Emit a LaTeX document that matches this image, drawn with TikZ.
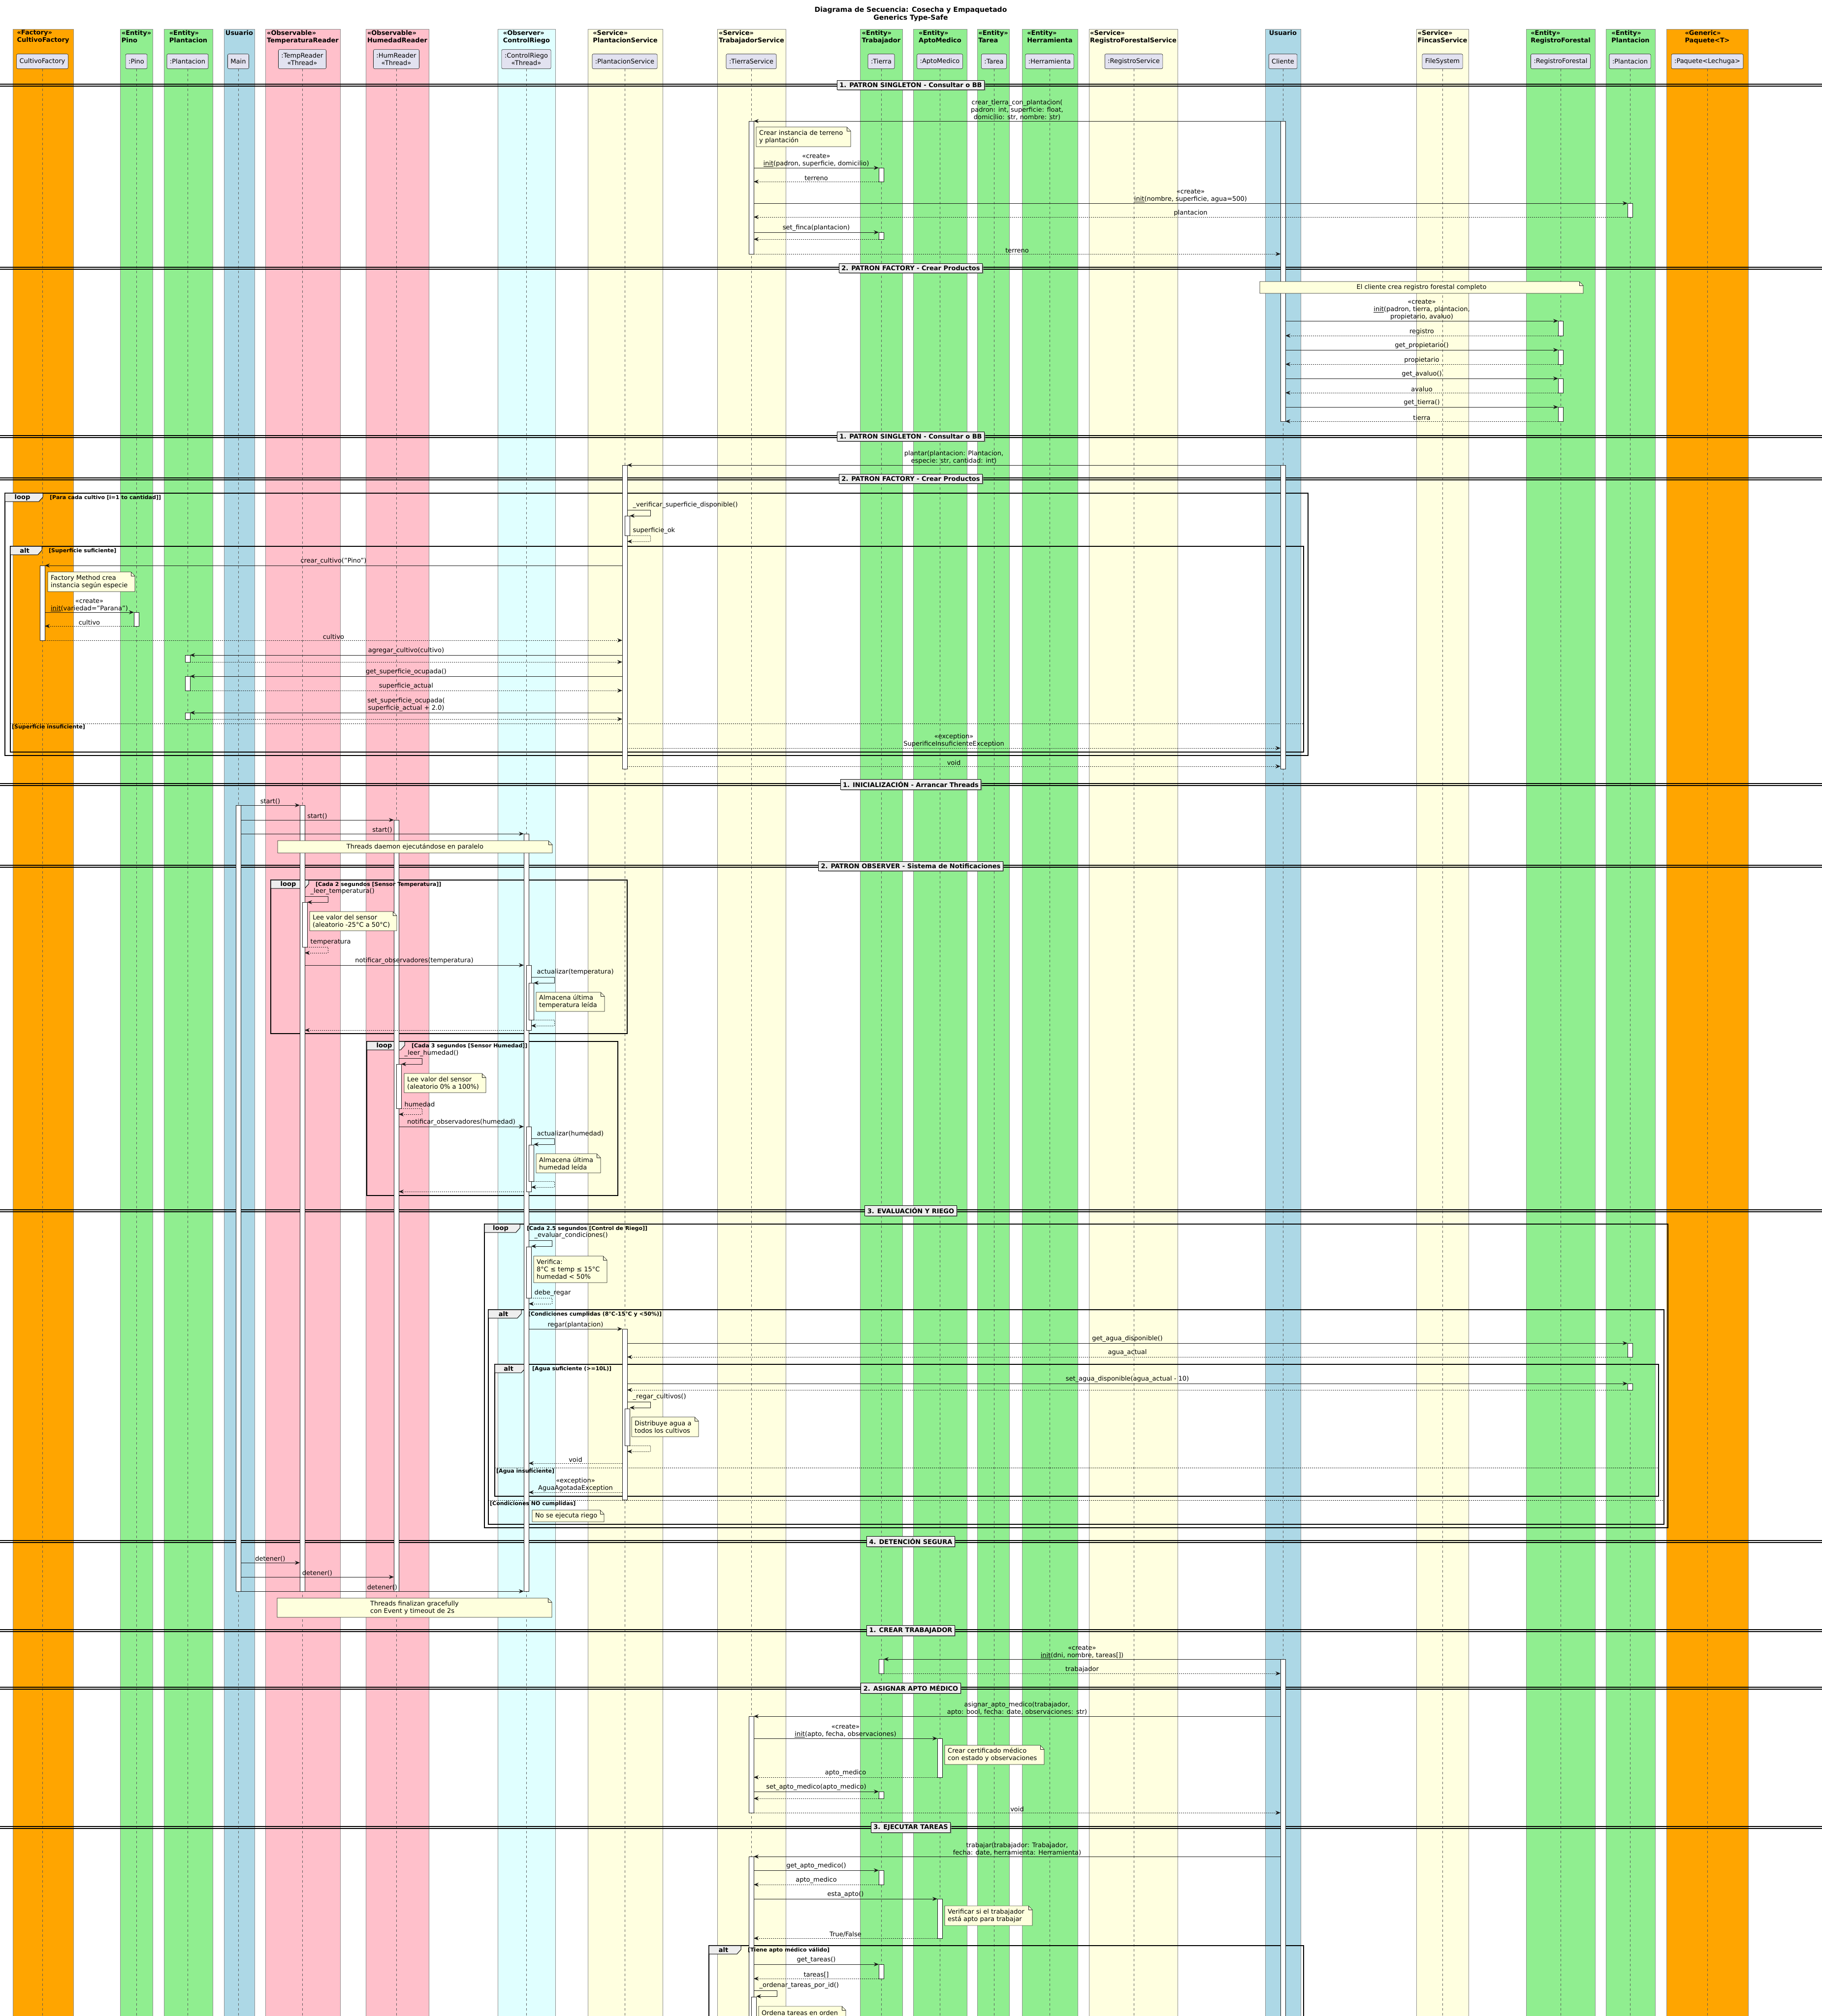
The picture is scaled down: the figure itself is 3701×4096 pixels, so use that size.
\documentclass[tikz,border=0pt]{standalone}
\usepackage{fontspec}
\setmainfont{DejaVu Sans}
\usetikzlibrary{calc,arrows.meta,shadows}

\definecolor{facorange}{HTML}{FFA500}
\definecolor{entgreen}{HTML}{90EE90}
\definecolor{usrblue}{HTML}{ADD8E6}
\definecolor{obspink}{HTML}{FFC0CB}
\definecolor{obscyan}{HTML}{E0FFFF}
\definecolor{svcyellow}{HTML}{FFFFE0}
\definecolor{headfill}{HTML}{E2E2F0}
\definecolor{notefill}{HTML}{FEFFDD}
\definecolor{tabfill}{HTML}{EEEEEE}
\definecolor{ink}{HTML}{181818}

\pgfdeclarelayer{bg}
\pgfdeclarelayer{mid}
\pgfdeclarelayer{acts}
\pgfsetlayers{bg,mid,acts,main}

\tikzset{
  band/.style={draw=black!45, line width=0.6pt},
  boxtitle/.style={anchor=north, align=left, inner sep=0pt, font=\bfseries},
  head/.style={draw=ink, fill=headfill, rounded corners=2.5pt, anchor=south, align=center,
    minimum height=30pt, inner xsep=6pt, inner ysep=7pt, line width=0.6pt},
  lifeline/.style={draw=black!65, dash pattern=on 5pt off 5pt, line width=0.7pt},
  actbox/.style={draw=ink, fill=white, line width=0.8pt},
  call/.style={draw=ink, line width=1pt, -{Stealth[length=10pt,width=8pt]}, shorten <=5pt, shorten >=5pt},
  ret/.style={call, dash pattern=on 2pt off 2pt},
  msglbl/.style={above, inner sep=1.5pt, align=center},
  selflbl/.style={anchor=south west, inner sep=1.5pt},
  notebox/.style={draw=ink, fill=notefill, line width=0.6pt},
  notetxt/.style={inner sep=0pt, align=left},
  divlbl/.style={draw=black, fill=tabfill, line width=1pt, inner xsep=5pt, inner ysep=4pt, font=\bfseries,
    drop shadow={shadow xshift=2pt, shadow yshift=-2pt, opacity=0.6}},
  frame/.style={draw=black, line width=1.4pt},
  tabshape/.style={draw=black, fill=tabfill, line width=1pt},
  condlbl/.style={inner sep=0pt, font=\bfseries\fontsize{11}{13}\selectfont},
}

\newcount\lblno

% name, x, band x1, band x2, colour, title, head
\newcommand\participant[7]{%
  \begin{pgfonlayer}{bg}
    \filldraw[band, fill=#5] (#3,59) rectangle (#4,4110);
  \end{pgfonlayer}
  \node[boxtitle] (#1t) at ({(#3+#4)/2},61) {#6};
  \node[head] (#1) at (#2,140) {#7};
  \begin{pgfonlayer}{mid}
    \draw[lifeline] (#1.south) -- ++(0,3970);
  \end{pgfonlayer}
}

% [offset] who, y1, y2
\newcommand\act[4][0]{%
  \path (0,#3) coordinate (ya) (0,#4) coordinate (yb);
  \path (#2 |- ya) coordinate (pa) (#2 |- yb) coordinate (pb);
  \begin{pgfonlayer}{acts}
    \draw[actbox] ($(pa)+(#1-5,0)$) rectangle ($(pb)+(#1+5,0)$);
  \end{pgfonlayer}
}

\newcommand\callmsg[4]{%
  \global\advance\lblno by 1
  \path (0,#3) coordinate (yy);
  \draw[call] (#1 |- yy) -- node[msglbl] (lbl\the\lblno) {#4} (#2 |- yy);
}
\newcommand\retmsg[4]{%
  \global\advance\lblno by 1
  \path (0,#3) coordinate (yy);
  \draw[ret] (#1 |- yy) -- node[msglbl] (lbl\the\lblno) {#4} (#2 |- yy);
}

% [offset] who, y, label
\newcommand\selfcall[4][0]{%
  \global\advance\lblno by 1
  \path (0,#3) coordinate (yy);
  \path (#2 |- yy) coordinate (sa);
  \draw[call, shorten <=0pt, shorten >=0pt] ($(sa)+(#1+5,0)$) -- ($(sa)+(#1+52,0)$)
    -- ($(sa)+(#1+52,12)$) -- ($(sa)+(#1+10,12)$);
  \node[selflbl] (lbl\the\lblno) at ($(sa)+(#1+15,-2)$) {#4};
}
\newcommand\selfret[4][0]{%
  \global\advance\lblno by 1
  \path (0,#3) coordinate (yy);
  \path (#2 |- yy) coordinate (sa);
  \draw[ret, shorten <=0pt, shorten >=0pt] ($(sa)+(#1+10,0)$) -- ($(sa)+(#1+52,0)$)
    -- ($(sa)+(#1+52,12)$) -- ($(sa)+(#1+5,12)$);
  \node[selflbl] (lbl\the\lblno) at ($(sa)+(#1+15,-2)$) {#4};
}

% name, y, label
\newcommand\divider[3]{%
  \begin{pgfonlayer}{mid}
    \draw[line width=1.1pt] (0,#2-2) -- (3701,#2-2) (0,#2+2) -- (3701,#2+2);
  \end{pgfonlayer}
  \node[divlbl] (#1) at (1850,#2) {#3};
}

% x1, y1, x2, y2, keyword, condition, tab width
\newcommand\grp[7]{%
  \global\advance\lblno by 1
  \begin{pgfonlayer}{mid}
    \draw[frame] (#1,#2) rectangle (#3,#4);
    \draw[tabshape] (#1,#2) -- (#1+#7,#2) -- (#1+#7,#2+8) -- (#1+#7-8,#2+17) -- (#1,#2+17) -- cycle;
  \end{pgfonlayer}
  \node[font=\bfseries, inner sep=0pt] (kw\the\lblno) at ({#1+#7/2-3},#2+9) {#5};
  \node[condlbl, anchor=west] (cond\the\lblno) at (#1+#7+14,#2+9) {#6};
}
% x1, x2, y, condition
\newcommand\grpelse[4]{%
  \global\advance\lblno by 1
  \begin{pgfonlayer}{mid}
    \draw[line width=0.8pt, dash pattern=on 2pt off 2pt] (#1,#3) -- (#2,#3);
  \end{pgfonlayer}
  \node[condlbl, anchor=north west] (cond\the\lblno) at (#1+3,#3+2) {#4};
}

% x1, y1, x2, y2, text
\newcommand\memo[5]{%
  \global\advance\lblno by 1
  \draw[notebox] (#1,#2) -- (#3-8,#2) -- (#3,#2+8) -- (#3,#4) -- (#1,#4) -- cycle;
  \draw[notebox, fill=none] (#3-8,#2) -- (#3-8,#2+8) -- (#3,#2+8);
  \node[notetxt, anchor=west] (note\the\lblno) at ({#1+6},{(#2+#4)/2}) {#5};
}
\newcommand\cmemo[5]{%
  \global\advance\lblno by 1
  \draw[notebox] (#1,#2) -- (#3-8,#2) -- (#3,#2+8) -- (#3,#4) -- (#1,#4) -- cycle;
  \draw[notebox, fill=none] (#3-8,#2) -- (#3-8,#2+8) -- (#3,#2+8);
  \node[notetxt] (note\the\lblno) at ({(#1+#3)/2},{(#2+#4)/2}) {#5};
}

\begin{document}
\begin{tikzpicture}[x=1pt, y=-1pt, line join=round]
\fontsize{13}{15}\selectfont
\useasboundingbox (0,0) rectangle (3701,4096);
\begin{pgfonlayer}{bg}
  \fill[white] (0,0) rectangle (3701,4096);
\end{pgfonlayer}

\node[font=\bfseries\fontsize{14}{16}\selectfont, align=center] (title) at (1850,29)
  {Diagrama de Secuencia: Cosecha y Empaquetado\\Generics Type-Safe};

% participantes
\participant{fac}{86}{26}{149}{facorange}{«Factory»\\CultivoFactory}{CultivoFactory}
\participant{pino}{277}{244}{310}{entgreen}{«Entity»\\Pino}{:Pino}
\participant{plan}{381}{333}{432}{entgreen}{«Entity»\\Plantacion}{:Plantacion}
\participant{main}{484}{455}{517}{usrblue}{Usuario}{Main}
\participant{temp}{614}{539}{691}{obspink}{«Observable»\\TemperaturaReader}{:TempReader\\«Thread»}
\participant{hum}{805}{743}{871}{obspink}{«Observable»\\HumedadReader}{:HumReader\\«Thread»}
\participant{riego}{1069}{1011}{1128}{obscyan}{«Observer»\\ControlRiego}{:ControlRiego\\«Thread»}
\participant{psvc}{1269}{1194}{1346}{svcyellow}{«Service»\\PlantacionService}{:PlantacionService}
\participant{tsvc}{1526}{1457}{1596}{svcyellow}{«Service»\\TrabajadorService}{:TierraService}
\participant{tierra}{1790}{1747}{1833}{entgreen}{«Entity»\\Trabajador}{:Tierra}
\participant{apto}{1909}{1855}{1964}{entgreen}{«Entity»\\AptoMedico}{:AptoMedico}
\participant{tarea}{2019}{1985}{2050}{entgreen}{«Entity»\\Tarea}{:Tarea}
\participant{herr}{2132}{2076}{2189}{entgreen}{«Entity»\\Herramienta}{:Herramienta}
\participant{rsvc}{2303}{2212}{2392}{svcyellow}{«Service»\\RegistroForestalService}{:RegistroService}
\participant{cli}{2606}{2570}{2642}{usrblue}{Usuario}{Cliente}
\participant{fincas}{2930}{2877}{2983}{svcyellow}{«Service»\\FincasService}{FileSystem}
\participant{reg}{3170}{3100}{3240}{entgreen}{«Entity»\\RegistroForestal}{:RegistroForestal}
\participant{plantwo}{3311}{3262}{3362}{entgreen}{«Entity»\\Plantacion}{:Plantacion}
\participant{paq}{3468}{3385}{3551}{facorange}{«Generic»\\Paquete<T>}{:Paquete<Lechuga>}

% tierra con plantacion
\divider{divA}{173}{1. PATRON SINGLETON - Consultar o BB}
\act{cli}{246}{856}
\act{tsvc}{246}{516}
\callmsg{cli}{tsvc}{246}{crear\_tierra\_con\_plantacion(\\padron: int, superficie: float,\\domicilio: str, nombre: str)}
\memo{1536}{258}{1728}{298}{Crear instancia de terreno\\y plantación}
\act{tierra}{341}{369}
\callmsg{tsvc}{tierra}{341}{«create»\\\underline{init}(padron, superficie, domicilio)}
\retmsg{tierra}{tsvc}{369}{terreno}
\act{plantwo}{413}{441}
\callmsg{tsvc}{plantwo}{413}{«create»\\\underline{init}(nombre, superficie, agua=500)}
\retmsg{plantwo}{tsvc}{441}{plantacion}
\act{tierra}{472}{486}
\callmsg{tsvc}{tierra}{472}{set\_finca(plantacion)}
\retmsg{tierra}{tsvc}{486}{}
\retmsg{tsvc}{cli}{516}{terreno}

% registro forestal
\divider{divB}{545}{2. PATRON FACTORY - Crear Productos}
\cmemo{2559}{572}{3216}{596}{El cliente crea registro forestal completo}
\act{reg}{652}{682}
\callmsg{cli}{reg}{652}{«create»\\\underline{init}(padron, tierra, plantacion,\\propietario, avaluo)}
\retmsg{reg}{cli}{682}{registro}
\act{reg}{711}{740}
\callmsg{cli}{reg}{711}{get\_propietario()}
\retmsg{reg}{cli}{740}{propietario}
\act{reg}{769}{798}
\callmsg{cli}{reg}{769}{get\_avaluo()}
\retmsg{reg}{cli}{798}{avaluo}
\act{reg}{827}{856}
\callmsg{cli}{reg}{827}{get\_tierra()}
\retmsg{reg}{cli}{856}{tierra}

% plantar
\divider{divC}{887}{1. PATRON SINGLETON - Consultar o BB}
\act{cli}{945}{1562}
\act{psvc}{945}{1562}
\callmsg{cli}{psvc}{945}{plantar(plantacion: Plantacion,\\especie: str, cantidad: int)}
\divider{divD}{973}{2. PATRON FACTORY - Crear Productos}
\grp{10}{1002}{2657}{1535}{loop}{[Para cada cultivo [i=1 to cantidad]]}{77}
\selfcall{psvc}{1036}{\_verificar\_superficie\_disponible()}
\act[5]{psvc}{1048}{1088}
\selfret{psvc}{1088}{superficie\_ok}
\grp{21}{1110}{2648}{1528}{alt}{[Superficie suficiente]}{64}
\act{fac}{1149}{1301}
\callmsg{psvc}{fac}{1149}{crear\_cultivo("Pino")}
\memo{97}{1162}{274}{1202}{Factory Method crea\\instancia según especie}
\act{pino}{1244}{1272}
\callmsg{fac}{pino}{1244}{«create»\\\underline{init}(variedad="Parana")}
\retmsg{pino}{fac}{1272}{cultivo}
\retmsg{fac}{psvc}{1301}{cultivo}
\act{plan}{1331}{1345}
\callmsg{psvc}{plan}{1331}{agregar\_cultivo(cultivo)}
\retmsg{plan}{psvc}{1345}{}
\act{plan}{1374}{1403}
\callmsg{psvc}{plan}{1374}{get\_superficie\_ocupada()}
\retmsg{plan}{psvc}{1403}{superficie\_actual}
\act{plan}{1448}{1461}
\callmsg{psvc}{plan}{1448}{set\_superficie\_ocupada(\\superficie\_actual + 2.0)}
\retmsg{plan}{psvc}{1461}{}
\grpelse{21}{2648}{1470}{[Superficie insuficiente]}
\retmsg{psvc}{cli}{1520}{«exception»\\SuperificeInsuficienteException}
\retmsg{psvc}{cli}{1557}{void}

% hilos
\divider{divE}{1594}{1. INICIALIZACIÓN - Arrancar Threads}
\act{main}{1636}{3233}
\act{temp}{1636}{3233}
\callmsg{main}{temp}{1636}{start()}
\act{hum}{1666}{3233}
\callmsg{main}{hum}{1666}{start()}
\act{riego}{1694}{3233}
\callmsg{main}{riego}{1694}{start()}
\cmemo{564}{1708}{1122}{1733}{Threads daemon ejecutándose en paralelo}

\divider{divF}{1760}{2. PATRON OBSERVER - Sistema de Notificaciones}
\grp{550}{1788}{1274}{2100}{loop}{[Cada 2 segundos [Sensor Temperatura]]}{77}
\selfcall{temp}{1821}{\_leer\_temperatura()}
\act[5]{temp}{1833}{1924}
\memo{629}{1852}{806}{1891}{Lee valor del sensor\\(aleatorio -25°C a 50°C)}
\selfret{temp}{1924}{temperatura}
\act[5]{riego}{1961}{2093}
\callmsg{temp}{riego}{1961}{notificar\_observadores(temperatura)}
\selfcall[5]{riego}{1985}{actualizar(temperatura)}
\act[10]{riego}{1997}{2072}
\memo{1089}{2016}{1228}{2055}{Almacena última\\temperatura leída}
\selfret[5]{riego}{2072}{}
\retmsg{riego}{temp}{2093}{}

\grp{745}{2116}{1255}{2429}{loop}{[Cada 3 segundos [Sensor Humedad]]}{77}
\selfcall{hum}{2150}{\_leer\_humedad()}
\act[5]{hum}{2162}{2252}
\memo{821}{2181}{987}{2220}{Lee valor del sensor\\(aleatorio 0\% a 100\%)}
\selfret{hum}{2252}{humedad}
\act[5]{riego}{2289}{2421}
\callmsg{hum}{riego}{2289}{notificar\_observadores(humedad)}
\selfcall[5]{riego}{2313}{actualizar(humedad)}
\act[10]{riego}{2326}{2400}
\memo{1089}{2344}{1220}{2383}{Almacena última\\humedad leída}
\selfret[5]{riego}{2400}{}
\retmsg{riego}{hum}{2421}{}

% riego
\divider{divG}{2460}{3. EVALUACIÓN Y RIEGO}
\grp{984}{2487}{3388}{3104}{loop}{[Cada 2.5 segundos [Control de Riego]]}{72}
\selfcall{riego}{2520}{\_evaluar\_condiciones()}
\act[5]{riego}{2533}{2637}
\memo{1084}{2552}{1233}{2606}{Verifica:\\8°C ≤ temp ≤ 15°C\\humedad < 50\%}
\selfret{riego}{2637}{debe\_regar}
\grp{992}{2661}{3380}{3097}{alt}{[Condiciones cumplidas (8°C-15°C y <50\%)]}{67}
\act{psvc}{2700}{3047}
\callmsg{riego}{psvc}{2700}{regar(plantacion)}
\act{plantwo}{2729}{2757}
\callmsg{psvc}{plantwo}{2729}{get\_agua\_disponible()}
\retmsg{plantwo}{psvc}{2757}{agua\_actual}
\grp{1005}{2772}{3369}{3040}{alt}{[Agua suficiente (>=10L)]}{62}
\act{plantwo}{2811}{2824}
\callmsg{psvc}{plantwo}{2811}{set\_agua\_disponible(agua\_actual - 10)}
\retmsg{plantwo}{psvc}{2824}{}
\selfcall{psvc}{2848}{\_regar\_cultivos()}
\act[5]{psvc}{2862}{2937}
\memo{1283}{2879}{1419}{2919}{Distribuye agua a\\todos los cultivos}
\selfret{psvc}{2937}{}
\retmsg{psvc}{riego}{2973}{void}
\grpelse{1005}{3369}{2982}{[Agua insuficiente]}
\retmsg{psvc}{riego}{3032}{«exception»\\AguaAgotadaException}
\grpelse{992}{3380}{3048}{[Condiciones NO cumplidas]}
\memo{1081}{3068}{1227}{3092}{No se ejecuta riego}

% detencion
\divider{divH}{3132}{4. DETENCIÓN SEGURA}
\callmsg{main}{temp}{3175}{detener()}
\callmsg{main}{hum}{3204}{detener()}
\callmsg{main}{riego}{3233}{detener()}
\cmemo{563}{3247}{1121}{3286}{Threads finalizan gracefully\\con Event y timeout de 2s}

% trabajador
\divider{divI}{3313}{1. CREAR TRABAJADOR}
\act{cli}{3371}{4200}
\act{tierra}{3371}{3400}
\callmsg{cli}{tierra}{3371}{«create»\\\underline{init}(dni, nombre, tareas[])}
\retmsg{tierra}{cli}{3400}{trabajador}

\divider{divJ}{3430}{2. ASIGNAR APTO MÉDICO}
\act{tsvc}{3487}{3683}
\callmsg{cli}{tsvc}{3487}{asignar\_apto\_medico(trabajador,\\apto: bool, fecha: date, observaciones: str)}
\act{apto}{3532}{3611}
\callmsg{tsvc}{apto}{3532}{«create»\\\underline{init}(apto, fecha, observaciones)}
\memo{1919}{3546}{2121}{3585}{Crear certificado médico\\con estado y observaciones}
\retmsg{apto}{tsvc}{3611}{apto\_medico}
\act{tierra}{3640}{3654}
\callmsg{tsvc}{tierra}{3640}{set\_apto\_medico(apto\_medico)}
\retmsg{tierra}{tsvc}{3654}{}
\retmsg{tsvc}{cli}{3683}{void}

\divider{divK}{3713}{3. EJECUTAR TAREAS}
\act{tsvc}{3772}{4200}
\callmsg{cli}{tsvc}{3772}{trabajar(trabajador: Trabajador,\\fecha: date, herramienta: Herramienta)}
\act{tierra}{3800}{3829}
\callmsg{tsvc}{tierra}{3800}{get\_apto\_medico()}
\retmsg{tierra}{tsvc}{3829}{apto\_medico}
\act{apto}{3858}{3938}
\callmsg{tsvc}{apto}{3858}{esta\_apto()}
\memo{1919}{3872}{2097}{3912}{Verificar si el trabajador\\está apto para trabajar}
\retmsg{apto}{tsvc}{3938}{True/False}
\grp{1440}{3953}{2648}{4200}{alt}{[Tiene apto médico válido]}{65}
\act{tierra}{3991}{4020}
\callmsg{tsvc}{tierra}{3991}{get\_tareas()}
\retmsg{tierra}{tsvc}{4020}{tareas[]}
\selfcall{tsvc}{4044}{\_ordenar\_tareas\_por\_id()}
\act[5]{tsvc}{4057}{4200}
\memo{1541}{4076}{1718}{4104}{Ordena tareas en orden}
\end{tikzpicture}
\end{document}
